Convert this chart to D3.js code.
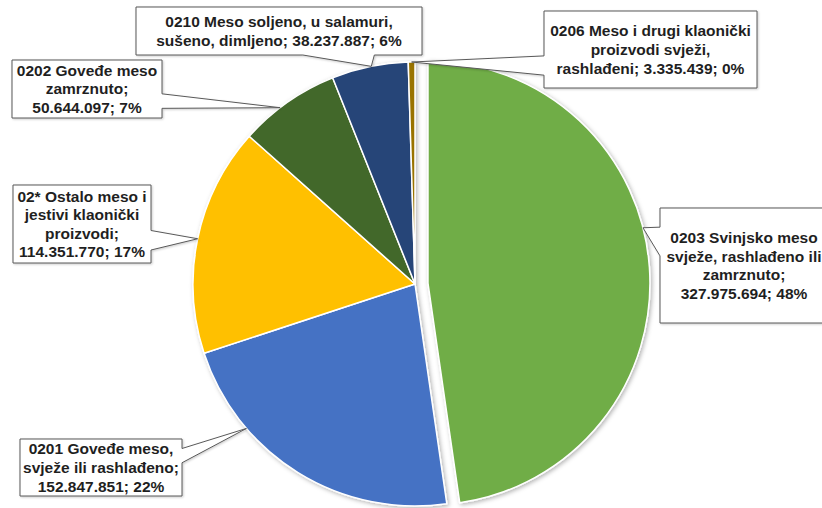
<!DOCTYPE html>
<html>
<head>
<meta charset="utf-8">
<script src="https://cdn.jsdelivr.net/npm/d3@7"></script>
<style>
  html, body { margin: 0; padding: 0; background: #fff; }
  svg { display: block; }
</style>
</head>
<body>
<div id="chart"></div>
<script>
// Chart data
const categories = [
    '0203 Svinjsko meso svježe, rashlađeno ili zamrznuto',
    '0201 Goveđe meso, svježe ili rashlađeno',
    '02* Ostalo meso i jestivi klaonički proizvodi',
    '0202 Goveđe meso zamrznuto',
    '0210 Meso soljeno, u salamuri, sušeno, dimljeno',
    '0206 Meso i drugi klaonički proizvodi svježi, rashlađeni'
];
const values = [327975694, 152847851, 114351770, 50644097, 38237887, 3335439];
const colors = ['#70AD47', '#4472C4', '#FFC000', '#43682B', '#264478', '#997300'];

// Label box placement (x, y, width, height), text wrap width,
// and where along the slice the pointer lands
const labelBoxes = [
    { x: 660, y: 208, w: 168, h: 115, wrap: 162, t: 0.44 },
    { x: 20, y: 439, w: 162, h: 57, wrap: 160, t: 0.72 },
    { x: 13, y: 185, w: 138, h: 78, wrap: 134, t: 0.5 },
    { x: 12, y: 60, w: 150, h: 58, wrap: 144, t: 0.41 },
    { x: 136, y: 7, w: 286, h: 48, wrap: 278, t: 0.52 },
    { x: 544, y: 11, w: 213, h: 77, wrap: 204, t: 0.5 }
];

const width = 822, height = 508;
const cx = 415, cy = 284, radius = 222;
const explode = [13, 0, 0, 0, 0, 0];

const svg = d3.select('#chart').append('svg')
    .attr('width', width)
    .attr('height', height);

const defs = svg.append('defs');
defs.append('filter').attr('id', 'pieShadow')
    .attr('x', '-20%').attr('y', '-20%').attr('width', '140%').attr('height', '140%')
    .append('feDropShadow')
    .attr('dx', 1.5).attr('dy', 1.5).attr('stdDeviation', 2)
    .attr('flood-color', '#000').attr('flood-opacity', 0.3);
defs.append('filter').attr('id', 'boxShadow')
    .attr('x', '-10%').attr('y', '-10%').attr('width', '130%').attr('height', '130%')
    .append('feDropShadow')
    .attr('dx', 1).attr('dy', 1).attr('stdDeviation', 1)
    .attr('flood-color', '#000').attr('flood-opacity', 0.2);

const pie = d3.pie().sort(null).value(d => d);
const arcs = pie(values);
const arc = d3.arc().innerRadius(0).outerRadius(radius);

const offset = (d, i) => {
    const mid = (d.startAngle + d.endAngle) / 2;
    return [Math.sin(mid) * explode[i], -Math.cos(mid) * explode[i]];
};

// slices
svg.append('g')
    .attr('transform', `translate(${cx},${cy})`)
    .attr('filter', 'url(#pieShadow)')
    .selectAll('path')
    .data(arcs)
    .enter()
    .append('path')
    .attr('transform', (d, i) => `translate(${offset(d, i)})`)
    .attr('d', arc)
    .attr('fill', (d, i) => colors[i])
    .attr('stroke', '#fff')
    .attr('stroke-width', 1.5)
    .attr('stroke-linejoin', 'round');

// label text
const locale = d3.formatLocale({ decimal: ',', thousands: '.', grouping: [3], currency: ['', ''] });
const fmtNum = locale.format(',d');
const total = d3.sum(values);
const fmtPct = v => Math.round(v / total * 100) + '%';

// rectangle callout with a wedge pointer (like Office's wedgeRectCallout)
function calloutPath(b, tx, ty) {
    const l = b.x, t = b.y, r = b.x + b.w, bt = b.y + b.h;
    const hc = l + b.w / 2, vc = t + b.h / 2;
    const dx = tx - hc, dy = ty - vc;
    const dz = Math.abs(dy) - Math.abs(dx * b.h / b.w);
    const x1 = l + b.w * (dx > 0 ? 7 : 2) / 12, x2 = l + b.w * (dx > 0 ? 10 : 5) / 12;
    const y1 = t + b.h * (dy > 0 ? 7 : 2) / 12, y2 = t + b.h * (dy > 0 ? 10 : 5) / 12;
    const side = dz > 0 ? (dy < 0 ? 'top' : 'bottom') : (dx < 0 ? 'left' : 'right');
    const p = d3.path();
    p.moveTo(l, t);
    if (side === 'top') { p.lineTo(x1, t); p.lineTo(tx, ty); p.lineTo(x2, t); }
    p.lineTo(r, t);
    if (side === 'right') { p.lineTo(r, y1); p.lineTo(tx, ty); p.lineTo(r, y2); }
    p.lineTo(r, bt);
    if (side === 'bottom') { p.lineTo(x2, bt); p.lineTo(tx, ty); p.lineTo(x1, bt); }
    p.lineTo(l, bt);
    if (side === 'left') { p.lineTo(l, y2); p.lineTo(tx, ty); p.lineTo(l, y1); }
    p.closePath();
    return p.toString();
}

const fontSize = 15.5, lineH = 18.6;
const labels = svg.append('g').attr('class', 'labels');

arcs.forEach((d, i) => {
    const b = labelBoxes[i];
    const a = d.startAngle + b.t * (d.endAngle - d.startAngle);
    const [ox, oy] = offset(d, i);
    const tx = cx + ox + Math.sin(a) * radius;
    const ty = cy + oy - Math.cos(a) * radius;

    const g = labels.append('g');
    g.append('path')
        .attr('d', calloutPath(b, tx, ty))
        .attr('fill', '#fff')
        .attr('stroke', '#595959')
        .attr('stroke-width', 1)
        .attr('filter', 'url(#boxShadow)');

    const text = g.append('text')
        .attr('text-anchor', 'middle')
        .style('font-family', '"Liberation Sans", Arial, sans-serif')
        .style('font-weight', 'bold')
        .style('font-size', fontSize + 'px')
        .attr('fill', '#1f1f1f');

    // wrap words to the box width
    const words = `${categories[i]}; ${fmtNum(values[i])}; ${fmtPct(values[i])}`.split(' ');
    const lines = [];
    let cur = '';
    const probe = text.append('tspan');
    words.forEach(w => {
        const test = cur ? cur + ' ' + w : w;
        probe.text(test);
        if (cur && probe.node().getComputedTextLength() > b.wrap) {
            lines.push(cur);
            cur = w;
        } else {
            cur = test;
        }
    });
    lines.push(cur);
    probe.remove();

    const y0 = b.y + b.h / 2 - (lines.length - 1) * lineH / 2 + fontSize * 0.35;
    lines.forEach((ln, k) => {
        text.append('tspan')
            .attr('x', b.x + b.w / 2)
            .attr('y', y0 + k * lineH)
            .text(ln);
    });
});
</script>
</body>
</html>
